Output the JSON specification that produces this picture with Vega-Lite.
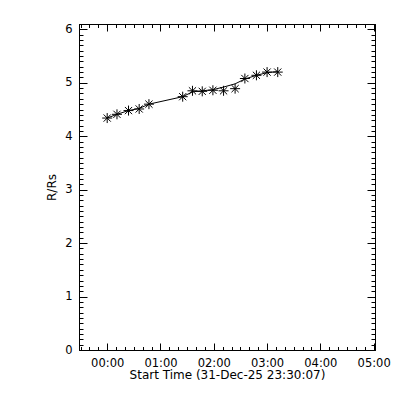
{
  "$schema": "https://vega.github.io/schema/vega-lite/v6.json",
  "autosize": {"type": "none"},
  "padding": {"left": 79, "top": 24, "right": 25, "bottom": 50},
  "width": 296,
  "height": 326,
  "background": "white",
  "config": {
    "view": {"stroke": null},
    "axis": {
      "domainColor": "black", "tickColor": "black", "labelColor": "black", "titleColor": "black",
      "labelFont": "DejaVu Sans", "titleFont": "DejaVu Sans", "labelFontSize": 11.5, "titleFontSize": 12,
      "titleFontWeight": "normal", "grid": false, "domainWidth": 1, "tickWidth": 1
    }
  },
  "datasets": {
    "pts": [
      {"t": "2026-01-01T00:00:00", "r": 4.34, "fit": 4.34},
      {"t": "2026-01-01T00:11:00", "r": 4.41, "fit": 4.41},
      {"t": "2026-01-01T00:24:00", "r": 4.48, "fit": 4.48},
      {"t": "2026-01-01T00:36:00", "r": 4.51, "fit": 4.52},
      {"t": "2026-01-01T00:47:00", "r": 4.60, "fit": 4.60},
      {"t": "2026-01-01T01:25:00", "r": 4.74, "fit": 4.74},
      {"t": "2026-01-01T01:36:00", "r": 4.85, "fit": 4.83},
      {"t": "2026-01-01T01:47:00", "r": 4.84, "fit": 4.85},
      {"t": "2026-01-01T01:59:00", "r": 4.86, "fit": 4.87},
      {"t": "2026-01-01T02:11:00", "r": 4.85, "fit": 4.92},
      {"t": "2026-01-01T02:24:00", "r": 4.89, "fit": 4.98},
      {"t": "2026-01-01T02:35:00", "r": 5.08, "fit": 5.07},
      {"t": "2026-01-01T02:48:00", "r": 5.14, "fit": 5.14},
      {"t": "2026-01-01T03:00:00", "r": 5.20, "fit": 5.19},
      {"t": "2026-01-01T03:12:00", "r": 5.20, "fit": 5.21}
    ]
  },
  "data": {"name": "pts"},
  "resolve": {"axis": {"x": "independent", "y": "independent"}},
  "layer": [
    {
      "mark": {"type": "line", "color": "black", "strokeWidth": 1},
      "encoding": {
        "x": {
          "field": "t", "type": "temporal",
          "scale": {"domain": [{"year": 2025, "month": 12, "date": 31, "hours": 23, "minutes": 28, "seconds": 15}, {"year": 2026, "month": 1, "date": 1, "hours": 5, "minutes": 1, "seconds": 30}], "nice": false},
          "axis": {
            "orient": "bottom", "title": "Start Time (31-Dec-25 23:30:07)", "format": "%H:%M",
            "values": [
              {"year": 2026, "month": 1, "date": 1, "hours": 0}, {"year": 2026, "month": 1, "date": 1, "hours": 1},
              {"year": 2026, "month": 1, "date": 1, "hours": 2}, {"year": 2026, "month": 1, "date": 1, "hours": 3},
              {"year": 2026, "month": 1, "date": 1, "hours": 4}, {"year": 2026, "month": 1, "date": 1, "hours": 5}
            ],
            "tickSize": -7, "labelPadding": 14, "titlePadding": 1
          }
        },
        "y": {
          "field": "fit", "type": "quantitative",
          "scale": {"domain": [0, 6.1], "nice": false, "zero": false},
          "axis": {
            "orient": "left", "title": "R/Rs", "values": [0, 1, 2, 3, 4, 5, 6], "format": "d",
            "tickSize": -8, "labelPadding": 15, "titlePadding": 6
          }
        }
      }
    },
    {
      "mark": {"type": "point", "shape": "M-1,0L1,0M0,-1L0,1M-0.72,-0.72L0.72,0.72M-0.72,0.72L0.72,-0.72", "filled": false, "color": "black", "strokeWidth": 1, "size": 100, "opacity": 1},
      "encoding": {
        "x": {
          "field": "t", "type": "temporal",
          "axis": {
            "orient": "top", "title": null, "labels": false, "tickSize": -7,
            "values": [
              {"year": 2026, "month": 1, "date": 1, "hours": 0}, {"year": 2026, "month": 1, "date": 1, "hours": 1},
              {"year": 2026, "month": 1, "date": 1, "hours": 2}, {"year": 2026, "month": 1, "date": 1, "hours": 3},
              {"year": 2026, "month": 1, "date": 1, "hours": 4}, {"year": 2026, "month": 1, "date": 1, "hours": 5}
            ]
          }
        },
        "y": {
          "field": "r", "type": "quantitative",
          "axis": {"orient": "right", "title": null, "labels": false, "values": [0, 1, 2, 3, 4, 5, 6], "tickSize": -8}
        }
      }
    },
    {
      "mark": {"type": "point", "opacity": 0},
      "encoding": {
        "x": {
          "field": "t", "type": "temporal",
          "axis": {
            "orient": "bottom", "title": null, "labels": false, "tickSize": -3.5,
            "values": [
              {"year": 2025, "month": 12, "date": 31, "hours": 23, "minutes": 30}, {"year": 2025, "month": 12, "date": 31, "hours": 23, "minutes": 40}, {"year": 2025, "month": 12, "date": 31, "hours": 23, "minutes": 50},
              {"year": 2026, "month": 1, "date": 1, "hours": 0, "minutes": 10}, {"year": 2026, "month": 1, "date": 1, "hours": 0, "minutes": 20}, {"year": 2026, "month": 1, "date": 1, "hours": 0, "minutes": 30}, {"year": 2026, "month": 1, "date": 1, "hours": 0, "minutes": 40}, {"year": 2026, "month": 1, "date": 1, "hours": 0, "minutes": 50},
              {"year": 2026, "month": 1, "date": 1, "hours": 1, "minutes": 10}, {"year": 2026, "month": 1, "date": 1, "hours": 1, "minutes": 20}, {"year": 2026, "month": 1, "date": 1, "hours": 1, "minutes": 30}, {"year": 2026, "month": 1, "date": 1, "hours": 1, "minutes": 40}, {"year": 2026, "month": 1, "date": 1, "hours": 1, "minutes": 50},
              {"year": 2026, "month": 1, "date": 1, "hours": 2, "minutes": 10}, {"year": 2026, "month": 1, "date": 1, "hours": 2, "minutes": 20}, {"year": 2026, "month": 1, "date": 1, "hours": 2, "minutes": 30}, {"year": 2026, "month": 1, "date": 1, "hours": 2, "minutes": 40}, {"year": 2026, "month": 1, "date": 1, "hours": 2, "minutes": 50},
              {"year": 2026, "month": 1, "date": 1, "hours": 3, "minutes": 10}, {"year": 2026, "month": 1, "date": 1, "hours": 3, "minutes": 20}, {"year": 2026, "month": 1, "date": 1, "hours": 3, "minutes": 30}, {"year": 2026, "month": 1, "date": 1, "hours": 3, "minutes": 40}, {"year": 2026, "month": 1, "date": 1, "hours": 3, "minutes": 50},
              {"year": 2026, "month": 1, "date": 1, "hours": 4, "minutes": 10}, {"year": 2026, "month": 1, "date": 1, "hours": 4, "minutes": 20}, {"year": 2026, "month": 1, "date": 1, "hours": 4, "minutes": 30}, {"year": 2026, "month": 1, "date": 1, "hours": 4, "minutes": 40}, {"year": 2026, "month": 1, "date": 1, "hours": 4, "minutes": 50}
            ]
          }
        },
        "y": {
          "field": "r", "type": "quantitative",
          "axis": {"orient": "left", "title": null, "labels": false, "tickSize": -4,
            "values": [0.1,0.2,0.3,0.4,0.5,0.6,0.7,0.8,0.9,1.1,1.2,1.3,1.4,1.5,1.6,1.7,1.8,1.9,2.1,2.2,2.3,2.4,2.5,2.6,2.7,2.8,2.9,3.1,3.2,3.3,3.4,3.5,3.6,3.7,3.8,3.9,4.1,4.2,4.3,4.4,4.5,4.6,4.7,4.8,4.9,5.1,5.2,5.3,5.4,5.5,5.6,5.7,5.8,5.9,6.1]}
        }
      }
    },
    {
      "mark": {"type": "point", "opacity": 0},
      "encoding": {
        "x": {
          "field": "t", "type": "temporal",
          "axis": {
            "orient": "top", "title": null, "labels": false, "tickSize": -3.5,
            "values": [
              {"year": 2025, "month": 12, "date": 31, "hours": 23, "minutes": 30}, {"year": 2025, "month": 12, "date": 31, "hours": 23, "minutes": 40}, {"year": 2025, "month": 12, "date": 31, "hours": 23, "minutes": 50},
              {"year": 2026, "month": 1, "date": 1, "hours": 0, "minutes": 10}, {"year": 2026, "month": 1, "date": 1, "hours": 0, "minutes": 20}, {"year": 2026, "month": 1, "date": 1, "hours": 0, "minutes": 30}, {"year": 2026, "month": 1, "date": 1, "hours": 0, "minutes": 40}, {"year": 2026, "month": 1, "date": 1, "hours": 0, "minutes": 50},
              {"year": 2026, "month": 1, "date": 1, "hours": 1, "minutes": 10}, {"year": 2026, "month": 1, "date": 1, "hours": 1, "minutes": 20}, {"year": 2026, "month": 1, "date": 1, "hours": 1, "minutes": 30}, {"year": 2026, "month": 1, "date": 1, "hours": 1, "minutes": 40}, {"year": 2026, "month": 1, "date": 1, "hours": 1, "minutes": 50},
              {"year": 2026, "month": 1, "date": 1, "hours": 2, "minutes": 10}, {"year": 2026, "month": 1, "date": 1, "hours": 2, "minutes": 20}, {"year": 2026, "month": 1, "date": 1, "hours": 2, "minutes": 30}, {"year": 2026, "month": 1, "date": 1, "hours": 2, "minutes": 40}, {"year": 2026, "month": 1, "date": 1, "hours": 2, "minutes": 50},
              {"year": 2026, "month": 1, "date": 1, "hours": 3, "minutes": 10}, {"year": 2026, "month": 1, "date": 1, "hours": 3, "minutes": 20}, {"year": 2026, "month": 1, "date": 1, "hours": 3, "minutes": 30}, {"year": 2026, "month": 1, "date": 1, "hours": 3, "minutes": 40}, {"year": 2026, "month": 1, "date": 1, "hours": 3, "minutes": 50},
              {"year": 2026, "month": 1, "date": 1, "hours": 4, "minutes": 10}, {"year": 2026, "month": 1, "date": 1, "hours": 4, "minutes": 20}, {"year": 2026, "month": 1, "date": 1, "hours": 4, "minutes": 30}, {"year": 2026, "month": 1, "date": 1, "hours": 4, "minutes": 40}, {"year": 2026, "month": 1, "date": 1, "hours": 4, "minutes": 50}
            ]
          }
        },
        "y": {
          "field": "r", "type": "quantitative",
          "axis": {"orient": "right", "title": null, "labels": false, "tickSize": -4,
            "values": [0.1,0.2,0.3,0.4,0.5,0.6,0.7,0.8,0.9,1.1,1.2,1.3,1.4,1.5,1.6,1.7,1.8,1.9,2.1,2.2,2.3,2.4,2.5,2.6,2.7,2.8,2.9,3.1,3.2,3.3,3.4,3.5,3.6,3.7,3.8,3.9,4.1,4.2,4.3,4.4,4.5,4.6,4.7,4.8,4.9,5.1,5.2,5.3,5.4,5.5,5.6,5.7,5.8,5.9,6.1]}
        }
      }
    }
  ]
}
